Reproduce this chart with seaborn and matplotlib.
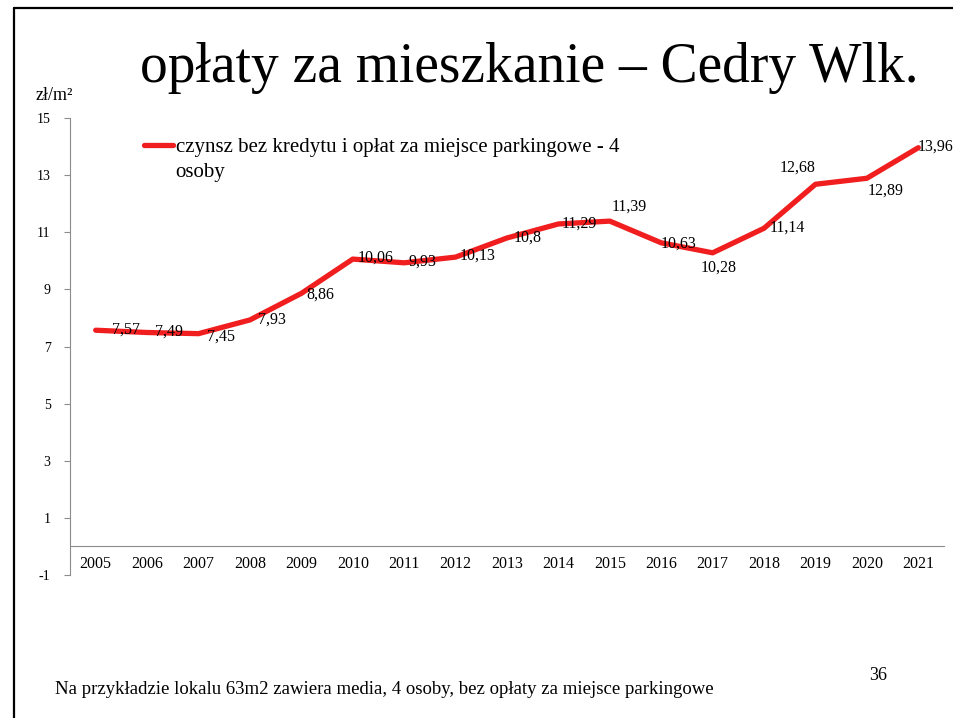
import pandas as pd
import seaborn as sns
from matplotlib import pyplot as plt
from matplotlib.lines import Line2D

# dane
years = [str(y) for y in range(2005, 2022)]
rent = [7.57, 7.49, 7.45, 7.93, 8.86, 10.06, 9.93, 10.13, 10.8, 11.29,
        11.39, 10.63, 10.28, 11.14, 12.68, 12.89, 13.96]
series_name = "czynsz bez kredytu i opłat za miejsce parkingowe - 4\nosoby"
y_ticks = [-1, 1, 3, 5, 7, 9, 11, 13, 15]

# przesunięcia etykiet wartości (piksele)
label_offsets = [(30, 1), (22, 1), (22, -3), (22, 0), (19, -1), (23, 1), (18, 1),
                 (22, 1), (21, 0), (21, 0), (19, 14), (17, -1), (6, -15),
                 (23, 1), (-18, 17), (19, -12), (17, 1)]

sns.set_style("white")
plt.rcParams['font.family'] = ['Liberation Serif', 'DejaVu Serif']
plt.rcParams['text.color'] = 'black'
plt.rcParams['axes.unicode_minus'] = False

df = pd.DataFrame({'rok': years, 'czynsz': rent})

fig = plt.figure(figsize=(9.54, 7.18), dpi=100)
ax = fig.add_axes([70 / 954, 1 - 575 / 718, 874 / 954, 457 / 718])

red = '#f01e1e'
sns.lineplot(data=df, x='rok', y='czynsz', ax=ax, color=red, linewidth=3.8,
             sort=False, label=series_name)

for i, (v, (dx, dy)) in enumerate(zip(rent, label_offsets)):
    txt = f"{v:g}".replace('.', ',')
    ax.annotate(txt, (i, v), xytext=(dx, dy), textcoords='offset pixels',
                ha='center', va='center', fontsize=11.5, color='black')

ax.set_xlim(-0.5, len(years) - 0.5)
ax.set_ylim(-1, 15)
ax.set_yticks(y_ticks)
ax.set_xlabel('')
ax.set_ylabel('')

grey = '#8c8c8c'
for s in ['top', 'right']:
    ax.spines[s].set_visible(False)
ax.spines['left'].set_color(grey)
ax.spines['bottom'].set_color(grey)
ax.spines['bottom'].set_position(('data', 0))

ax.set_xticks(range(len(years)))
ax.set_xticklabels(years)
ax.set_xticks([i - 0.5 for i in range(len(years) + 1)], minor=True)
ax.tick_params(axis='x', which='major', length=0, labelsize=11.5, pad=7,
               labelcolor='black')
ax.tick_params(axis='x', which='minor', length=4, direction='in', color=grey)
ax.tick_params(axis='y', length=4, direction='out', color=grey, labelsize=10,
               left=True, pad=10, labelcolor='black')

leg = ax.legend(loc='upper left', bbox_to_anchor=(0.085, 0.957), frameon=False,
                fontsize=15, handlelength=1.4, handletextpad=0.1,
                borderpad=0, borderaxespad=0)
leg.get_texts()[0].set_linespacing(1.45)
# uchwyt legendy na wysokości pierwszej linii tekstu
for col in leg._legend_handle_box.get_children():
    for row in col.get_children():
        row.align = 'top'

fig.text(0.5545, 1 - 82 / 718, "opłaty za mieszkanie – Cedry Wlk.",
         ha='center', va='baseline', fontsize=40)
fig.text(36 / 954, 1 - 95 / 718, "zł/m²", ha='left', va='center', fontsize=13)
fig.text(55 / 954, 1 - 690 / 718,
         "Na przykładzie lokalu 63m2 zawiera media, 4 osoby, bez opłaty za miejsce parkingowe",
         ha='left', va='center', fontsize=13.5)
fig.text(878 / 954, 1 - 676 / 718, "36", ha='center', va='center', fontsize=13)

# ramka slajdu
fig.add_artist(Line2D([14 / 954, 14 / 954], [0, 1 - 8 / 718],
                      transform=fig.transFigure, color='black', lw=1.6))
fig.add_artist(Line2D([14 / 954, 1], [1 - 8 / 718, 1 - 8 / 718],
                      transform=fig.transFigure, color='black', lw=1.6))

fig.savefig('out.png', dpi=100)
